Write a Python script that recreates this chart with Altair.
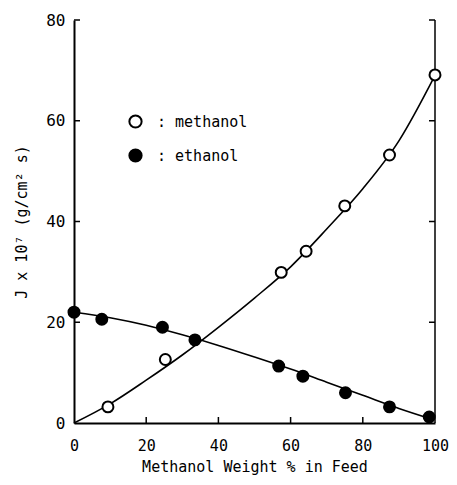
import altair as alt
import pandas as pd

# Measured data points
meth_x = [9.4, 25.3, 57.4, 64.3, 75.0, 87.4, 100.0]
meth_y = [3.2, 12.6, 29.9, 34.1, 43.1, 53.2, 69.1]
eth_x = [0.0, 7.7, 24.5, 33.5, 56.7, 63.4, 75.2, 87.4, 98.4]
eth_y = [22.0, 20.6, 19.0, 16.5, 11.3, 9.3, 6.0, 3.2, 1.2]

# Fitted curves
meth_fit_x = [0, 10, 20, 30, 40, 50, 60, 70, 80, 90, 100]
meth_fit_y = [0, 3.8, 8.5, 13.5, 19.0, 24.8, 31.0, 38.5, 46.5, 56.0, 69.0]
eth_fit_x = [0, 10, 20, 30, 40, 50, 60, 70, 80, 90, 99]
eth_fit_y = [22.0, 20.9, 19.4, 17.5, 15.4, 13.1, 10.7, 8.1, 5.5, 2.9, 0.8]

x_ticks = [0, 20, 40, 60, 80, 100]
y_ticks = [0, 20, 40, 60, 80]
inner_ticks = [20, 40, 60, 80]
series = ["methanol", "ethanol"]

W, H = 361, 403
FONT = "DejaVu Sans Mono"

pts = pd.concat([
    pd.DataFrame({"x": meth_x, "y": meth_y, "series": series[0]}),
    pd.DataFrame({"x": eth_x, "y": eth_y, "series": series[1]}),
])
fits = pd.concat([
    pd.DataFrame({"x": meth_fit_x, "y": meth_fit_y, "series": series[0]}),
    pd.DataFrame({"x": eth_fit_x, "y": eth_fit_y, "series": series[1]}),
])
ticks_df = pd.DataFrame({"t": inner_ticks})
top_tick_df = pd.DataFrame({"t": [80]})

xscale = alt.Scale(domain=[0, 100], nice=False, zero=False)
yscale = alt.Scale(domain=[0, 80], nice=False, zero=False)

xaxis = alt.Axis(values=x_ticks, ticks=False, grid=False, domainColor="black",
                 domainWidth=2, labelFont=FONT, labelFontSize=15, labelPadding=15,
                 labelFlush=False, labelColor="black", title="Methanol Weight % in Feed",
                 titleFont=FONT, titleFontSize=15, titleFontWeight="normal",
                 titlePadding=6, titleColor="black")
yaxis = alt.Axis(values=y_ticks, ticks=False, grid=False, domainColor="black",
                 domainWidth=2, labelFont=FONT, labelFontSize=16, labelPadding=9,
                 labelFlush=False, labelColor="black", title="J x 10\u2077 (g/cm\u00b2 s)",
                 titleFont=FONT, titleFontSize=15, titleFontWeight="normal",
                 titlePadding=16, titleColor="black")

lines = alt.Chart(fits).mark_line(color="black", strokeWidth=1.6, interpolate="monotone").encode(
    x=alt.X("x:Q", scale=xscale, axis=xaxis),
    y=alt.Y("y:Q", scale=yscale, axis=yaxis),
    detail="series:N",
)

points = alt.Chart(pts).mark_point(shape="circle", filled=True, size=120, strokeWidth=2,
                                   opacity=1).encode(
    x=alt.X("x:Q", scale=xscale),
    y=alt.Y("y:Q", scale=yscale),
    fill=alt.Fill("series:N", scale=alt.Scale(domain=series, range=["white", "black"]),
                  legend=alt.Legend(orient="none", legendX=54, legendY=94, title=None,
                                    padding=0, symbolType="circle", symbolSize=150,
                                    symbolStrokeColor="black", symbolStrokeWidth=2,
                                    symbolOpacity=1,
                                    labelFont=FONT, labelFontSize=15, labelColor="black",
                                    labelOffset=14, rowPadding=13,
                                    labelExpr="': ' + datum.label")),
    stroke=alt.value("black"),
)

# inward ticks
xt = alt.Chart(ticks_df).mark_rule(color="black", strokeWidth=1.5).encode(
    x=alt.X("t:Q", scale=xscale), y=alt.value(H), y2=alt.value(H - 6))
ylt = alt.Chart(pd.DataFrame({"t": inner_ticks})).mark_rule(color="black", strokeWidth=1.5).encode(
    y=alt.Y("t:Q", scale=yscale), x=alt.value(0), x2=alt.value(6))
yrt = alt.Chart(pd.DataFrame({"t": inner_ticks})).mark_rule(color="black", strokeWidth=1.5).encode(
    y=alt.Y("t:Q", scale=yscale), x=alt.value(W), x2=alt.value(W - 6))
right_line = alt.Chart(top_tick_df).mark_rule(color="black", strokeWidth=1.5).encode(
    x=alt.value(W), y=alt.value(0), y2=alt.value(H))

chart = alt.layer(right_line, xt, ylt, yrt, lines, points).properties(
    width=W, height=H,
    autosize=alt.AutoSizeParams(type="none"),
    padding={"left": 66, "top": 12, "right": 14, "bottom": 54},
    background="white",
).configure_view(stroke=None)

chart.save("out.html", embed_options={"renderer": "svg", "actions": False})
